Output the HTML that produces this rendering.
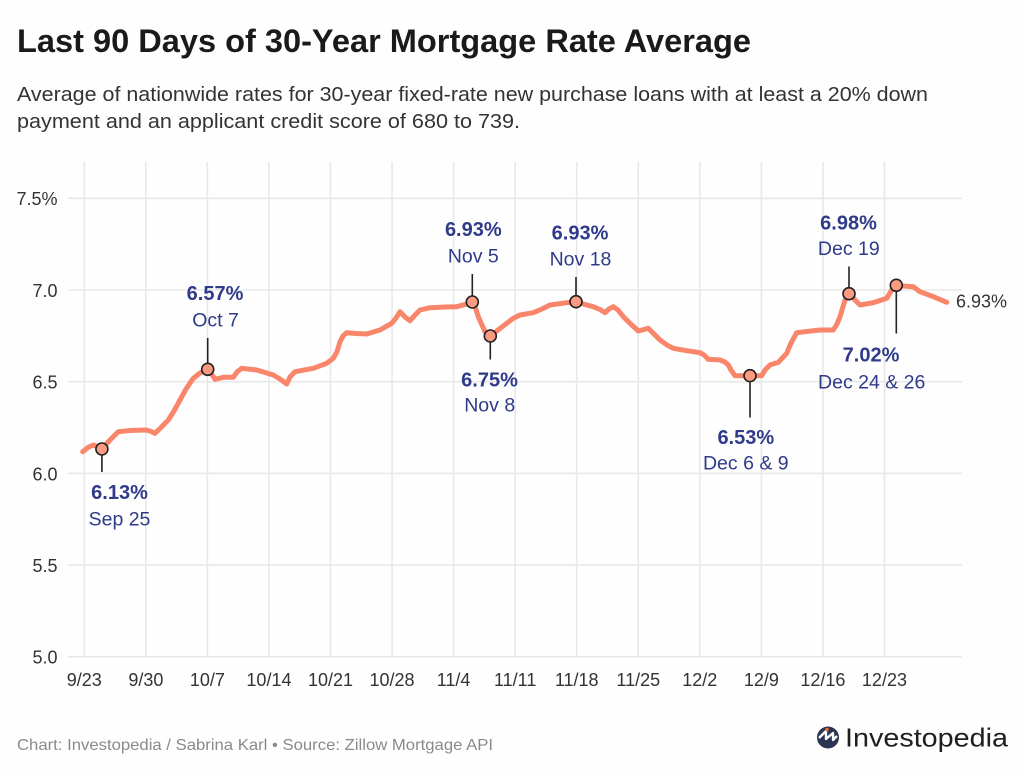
<!DOCTYPE html>
<html><head><meta charset="utf-8"><style>
html,body{margin:0;padding:0;background:#fff;}
svg{display:block;}
text{font-family:"Liberation Sans",sans-serif;}
</style></head><body>
<svg width="1024" height="776" viewBox="0 0 1024 776" xmlns="http://www.w3.org/2000/svg">
<rect width="1024" height="776" fill="#fefefe"/>
<text x="17" y="52" font-size="32" font-weight="bold" fill="#1a1a1a" textLength="734" lengthAdjust="spacingAndGlyphs">Last 90 Days of 30-Year Mortgage Rate Average</text>
<text x="17" y="101" font-size="20" fill="#333" textLength="911" lengthAdjust="spacingAndGlyphs">Average of nationwide rates for 30-year fixed-rate new purchase loans with at least a 20% down</text>
<text x="17" y="128" font-size="20" fill="#333" textLength="503" lengthAdjust="spacingAndGlyphs">payment and an applicant credit score of 680 to 739.</text>

<g stroke="#e8e8e8" stroke-width="1.6">
<line x1="84.3" y1="162" x2="84.3" y2="657"/>
<line x1="145.85" y1="162" x2="145.85" y2="657"/>
<line x1="207.4" y1="162" x2="207.4" y2="657"/>
<line x1="268.95" y1="162" x2="268.95" y2="657"/>
<line x1="330.5" y1="162" x2="330.5" y2="657"/>
<line x1="392.05" y1="162" x2="392.05" y2="657"/>
<line x1="453.6" y1="162" x2="453.6" y2="657"/>
<line x1="515.15" y1="162" x2="515.15" y2="657"/>
<line x1="576.7" y1="162" x2="576.7" y2="657"/>
<line x1="638.25" y1="162" x2="638.25" y2="657"/>
<line x1="699.8" y1="162" x2="699.8" y2="657"/>
<line x1="761.35" y1="162" x2="761.35" y2="657"/>
<line x1="822.9" y1="162" x2="822.9" y2="657"/>
<line x1="884.45" y1="162" x2="884.45" y2="657"/>
<line x1="68" y1="198.3" x2="962" y2="198.3"/>
<line x1="68" y1="290" x2="962" y2="290"/>
<line x1="68" y1="381.7" x2="962" y2="381.7"/>
<line x1="68" y1="473.4" x2="962" y2="473.4"/>
<line x1="68" y1="565.1" x2="962" y2="565.1"/>
<line x1="68" y1="656.8" x2="962" y2="656.8"/>
</g>

<g font-size="18" fill="#333" text-anchor="end">
<text x="57.5" y="205">7.5%</text>
<text x="57.5" y="297">7.0</text>
<text x="57.5" y="388.5">6.5</text>
<text x="57.5" y="480.3">6.0</text>
<text x="57.5" y="572">5.5</text>
<text x="57.5" y="663.7">5.0</text>
</g>
<g font-size="18" fill="#333" text-anchor="middle">
<text x="84.3" y="686">9/23</text>
<text x="145.85" y="686">9/30</text>
<text x="207.4" y="686">10/7</text>
<text x="268.95" y="686">10/14</text>
<text x="330.5" y="686">10/21</text>
<text x="392.05" y="686">10/28</text>
<text x="453.6" y="686">11/4</text>
<text x="515.15" y="686">11/11</text>
<text x="576.7" y="686">11/18</text>
<text x="638.25" y="686">11/25</text>
<text x="699.8" y="686">12/2</text>
<text x="761.35" y="686">12/9</text>
<text x="822.9" y="686">12/16</text>
<text x="884.45" y="686">12/23</text>
</g>

<g stroke="#222" stroke-width="1.6">
<line x1="101.9" y1="455" x2="101.9" y2="472"/>
<line x1="207.7" y1="338" x2="207.7" y2="363"/>
<line x1="472.3" y1="274" x2="472.3" y2="296"/>
<line x1="490.3" y1="342" x2="490.3" y2="359.5"/>
<line x1="576" y1="277" x2="576" y2="296"/>
<line x1="750" y1="382" x2="750" y2="417.5"/>
<line x1="849" y1="266.5" x2="849" y2="288"/>
<line x1="896.3" y1="291" x2="896.3" y2="333.5"/>
</g>

<polyline fill="none" stroke="#f9856a" stroke-width="5" stroke-linejoin="round" stroke-linecap="round" points="
82.7,451.7 88,447.5 93.3,445 97,446.5 101.7,449 110,440 118.3,431.7 130,430.5 146,430 150,431 155,433.3 162,426.5 168.3,420 174,411 180,400 186,389 193.3,378.3 200,373 207.7,369.3 211,373 215,379.3 223.3,377.3 233.3,377.3 237,372 241.7,368.3 256.7,370 273.3,375 280,379 286.7,384 290,377 295,371.7 313.3,368.3 326.7,363.3 333.3,358.3 337,351.7 340,341.7 343,336 346.7,332.7 356,333.5 366.7,334 380,330 391.7,323.3 396,318 400,311.7 405,317 410,320.7 415,315 420,310 430,307.7 445,307 456.7,306.7 465,304.5 472.3,302 475.5,308 478.3,316.7 482,325 485,331.7 490.3,336 498,330 506.7,323.3 513,318.5 520,315 533.3,312.7 542,309 550,305 566.7,302.7 576,301.7 585,304.5 593.3,306.7 600,309.5 605,312.7 609,309 613.3,306.7 618,310 623.3,316.7 630,323.3 638.3,331 648.3,328.3 654,334 660,340 667,345 673.3,348.3 686.7,350.7 700,352.7 704,355 708.3,359.3 720,360 725,362 728.3,365 731,370 735,375.7 750,375.7 761.7,375.7 765,370 770,365 778.3,362.3 786.7,353.3 791,343 796.7,332.7 820,330 833.3,330 837,324 840,316.7 845,300 849,293.7 852,296 855,300 860,305 873.3,302.7 886.7,298.3 891.7,290 896.3,285.3 903.3,286 913.3,286.7 920,291.7 933.3,296.7 946.7,302.3"/>

<g fill="#fb9c82" stroke="#222" stroke-width="1.6">
<circle cx="101.9" cy="449" r="6"/>
<circle cx="207.7" cy="369.3" r="6"/>
<circle cx="472.3" cy="302" r="6"/>
<circle cx="490.3" cy="336" r="6"/>
<circle cx="576" cy="301.7" r="6"/>
<circle cx="750" cy="375.7" r="6"/>
<circle cx="849" cy="293.7" r="6"/>
<circle cx="896.3" cy="285.3" r="6"/>
</g>

<g fill="#2f3a8a" text-anchor="middle">
<g font-size="20" font-weight="bold">
<text x="119.5" y="499">6.13%</text>
<text x="215" y="300">6.57%</text>
<text x="473.3" y="236">6.93%</text>
<text x="489.5" y="386.7">6.75%</text>
<text x="580" y="239.3">6.93%</text>
<text x="745.8" y="444">6.53%</text>
<text x="848.5" y="229.3">6.98%</text>
<text x="871" y="361.7">7.02%</text>
</g>
<g font-size="19.5">
<text x="119.5" y="525.5">Sep 25</text>
<text x="215.5" y="326.7">Oct 7</text>
<text x="473.3" y="262.3">Nov 5</text>
<text x="489.7" y="411.7">Nov 8</text>
<text x="580.5" y="265.7">Nov 18</text>
<text x="745.8" y="469.3">Dec 6 &amp; 9</text>
<text x="848.8" y="255">Dec 19</text>
<text x="871.7" y="388.3">Dec 24 &amp; 26</text>
</g>
</g>
<text x="956" y="307.5" font-size="18" fill="#333">6.93%</text>

<text x="17" y="750" font-size="16" fill="#8a8a8a" textLength="476" lengthAdjust="spacingAndGlyphs">Chart: Investopedia / Sabrina Karl • Source: Zillow Mortgage API</text>

<circle cx="828" cy="737.5" r="11" fill="#2b3452"/>
<path d="M819,738 L826,731 L826,739 L833,733 L833,740 L837,736" fill="none" stroke="#fff" stroke-width="2.4" stroke-linejoin="round"/>
<circle cx="827" cy="729.5" r="1.8" fill="#f26b3a"/>
<text x="845" y="746.5" font-size="26" fill="#1f1f1f" textLength="163" lengthAdjust="spacingAndGlyphs">Investopedia</text>
</svg>
</body></html>
